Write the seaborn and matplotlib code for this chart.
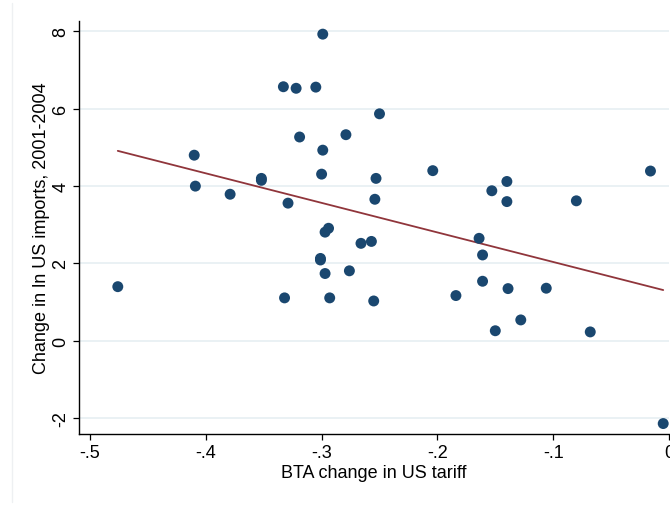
import matplotlib
matplotlib.use("Agg")
import matplotlib.pyplot as plt
import seaborn as sns
import pandas as pd
from matplotlib.lines import Line2D

# BTA tariff change vs. change in log US imports, by product
tariff_change = [
    -0.476, -0.410, -0.409, -0.379, -0.352, -0.352, -0.329, -0.333, -0.322,
    -0.305, -0.299, -0.319, -0.299, -0.300, -0.294, -0.297, -0.301, -0.301,
    -0.297, -0.332, -0.293, -0.279, -0.250, -0.253, -0.254, -0.266, -0.257,
    -0.204, -0.153, -0.140, -0.140, -0.080, -0.016, -0.164, -0.161, -0.276,
    -0.255, -0.184, -0.161, -0.139, -0.106, -0.128, -0.150, -0.068, -0.005,
]
import_change = [
    1.40, 4.80, 4.00, 3.79, 4.20, 4.15, 3.56, 6.57, 6.53,
    6.56, 7.93, 5.27, 4.93, 4.31, 2.91, 2.81, 2.13, 2.09,
    1.74, 1.11, 1.11, 5.33, 5.87, 4.20, 3.66, 2.52, 2.57,
    4.40, 3.88, 4.12, 3.60, 3.62, 4.39, 2.65, 2.22, 1.81,
    1.03, 1.17, 1.54, 1.35, 1.36, 0.54, 0.26, 0.23, -2.14,
]

x_ticks = [-0.5, -0.4, -0.3, -0.2, -0.1, 0.0]
x_tick_labels = ["-.5", "-.4", "-.3", "-.2", "-.1", "0"]
y_ticks = [-2, 0, 2, 4, 6, 8]
y_tick_labels = ["-2", "0", "2", "4", "6", "8"]

df = pd.DataFrame({"tariff": tariff_change, "imports": import_change})

sns.set_theme(style="white")
plt.rcParams["font.family"] = ["Liberation Sans", "DejaVu Sans"]

fig = plt.figure(figsize=(6.70, 5.06), dpi=100)
ax = fig.add_axes([79 / 670, 71 / 506, 590 / 670, 413 / 506])

navy = "#1a476f"
maroon = "#90353b"

sns.scatterplot(data=df, x="tariff", y="imports", ax=ax, color=navy,
                s=62, edgecolor="none", linewidth=0, zorder=3)
sns.regplot(data=df, x="tariff", y="imports", ax=ax, scatter=False,
            ci=None, truncate=True, color=maroon, line_kws={"lw": 1.3, "zorder": 2})

ax.set_xlim(-0.5095, 0.0)
ax.set_ylim(-2.41, 8.27)

ax.set_xticks(x_ticks, x_tick_labels)
ax.set_yticks(y_ticks, y_tick_labels)
for t in ax.get_yticklabels():
    t.set_rotation(90)
    t.set_va("center")

ax.yaxis.grid(True, color="#e8f0f3", lw=1.3)
ax.xaxis.grid(False)
ax.set_axisbelow(True)

for side in ("top", "right"):
    ax.spines[side].set_visible(False)
for side in ("left", "bottom"):
    ax.spines[side].set_color("black")
    ax.spines[side].set_linewidth(1.0)

ax.tick_params(axis="both", which="major", direction="out", length=4.5,
               width=0.9, color="black", labelsize=13, labelcolor="black",
               bottom=True, left=True)
ax.tick_params(axis="y", pad=2.5)
ax.tick_params(axis="x", pad=3)

ax.set_xlabel("BTA change in US tariff", fontsize=13, color="black", labelpad=2)
ax.set_ylabel("Change in ln US imports, 2001-2004", fontsize=13, color="black",
              labelpad=1.5)

# faint outer frame edge on the left
fig.add_artist(Line2D([12 / 670, 12 / 670], [3 / 506, 502 / 506],
                      transform=fig.transFigure, color="#eef0f2", lw=1.0))

fig.savefig("out.png", dpi=100, facecolor="white")
